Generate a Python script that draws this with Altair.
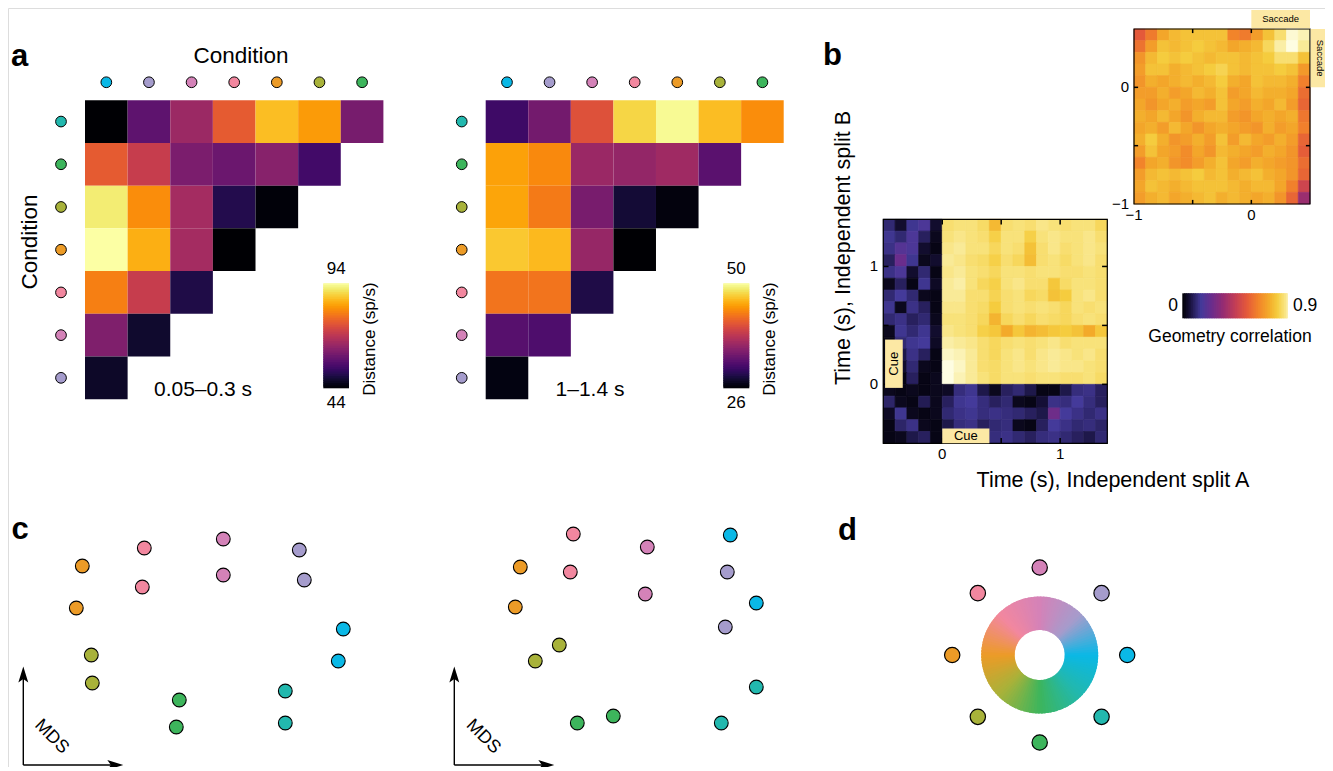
import altair as alt
import pandas as pd
import numpy as np

FONT = "Liberation Sans"
W, H = 1317, 759

# ---------------- conditions ----------------
cond_names = ["cyan", "lavender", "orchid", "pink", "orange", "olive", "green", "teal"]
cond_hex = ["#0ab8e6", "#a59ccc", "#d482b8", "#f2879f", "#ec9b27", "#a8b23a", "#3db55c", "#22b8ae"]
HEX = dict(zip(cond_names, cond_hex))

# ---------------- panel a data ----------------
col_conds = ["cyan", "lavender", "orchid", "pink", "orange", "olive", "green"]
row_conds = ["teal", "green", "olive", "orange", "pink", "orchid", "lavender"]

dist_early = [
    [44, 57.5, 65, 75.5, 86.5, 83, 60.5],
    [75.5, 70.5, 61, 59, 62.5, 54],
    [91.5, 81.5, 66, 50.5, 44.5],
    [94, 85, 66, 44],
    [80, 70.5, 50],
    [61.5, 48],
    [47.5],
]
dist_late = [
    [30.6, 33.7, 40.4, 47.6, 49.6, 46.4, 44],
    [45, 43.8, 36, 35.6, 36.3, 32.2],
    [45.2, 43, 34, 28.2, 26.5],
    [46.9, 46.2, 35.8, 26],
    [42.6, 42.6, 28.9],
    [32, 31.5],
    [26.7],
]
early_range = [44, 94]
late_range = [26, 50]

# ---------------- panel b data ----------------
big_ticks = [0, 0.5, 1]
big_labels_v = [0, 1]
big_labels_t = ["0", "1"]
inset_ticks = [-0.5, 0]
inset_labels_v = [-1, 0]
inset_labels_t = ["\u22121", "0"]
corr_range = [0, 0.9]

# geometry correlation, cue-aligned (rows: t_B = 1.35 ... -0.45, cols: t_A = -0.45 ... 1.35)
big_rows = [
    [0.12, 0.05, 0.15, 0.18, 0.05, 0.86, 0.87, 0.87, 0.85, 0.77, 0.86, 0.87, 0.86, 0.88, 0.87, 0.86, 0.87, 0.87, 0.84],
    [0.15, 0.12, 0.18, 0.10, 0.03, 0.87, 0.88, 0.87, 0.86, 0.82, 0.87, 0.87, 0.82, 0.87, 0.88, 0.87, 0.87, 0.88, 0.86],
    [0.14, 0.20, 0.18, 0.05, 0.02, 0.88, 0.89, 0.87, 0.87, 0.84, 0.87, 0.86, 0.79, 0.86, 0.88, 0.86, 0.87, 0.88, 0.87],
    [0.10, 0.25, 0.15, 0.03, 0.05, 0.89, 0.88, 0.86, 0.85, 0.82, 0.86, 0.84, 0.78, 0.86, 0.87, 0.85, 0.87, 0.88, 0.86],
    [0.14, 0.18, 0.05, 0.12, 0.02, 0.88, 0.89, 0.87, 0.86, 0.84, 0.87, 0.87, 0.86, 0.87, 0.87, 0.86, 0.86, 0.87, 0.86],
    [0.03, 0.10, 0.02, 0.15, 0.04, 0.89, 0.90, 0.87, 0.84, 0.82, 0.87, 0.88, 0.86, 0.86, 0.80, 0.85, 0.87, 0.87, 0.86],
    [0.12, 0.16, 0.12, 0.03, 0.02, 0.89, 0.89, 0.86, 0.86, 0.83, 0.86, 0.87, 0.84, 0.85, 0.79, 0.81, 0.87, 0.88, 0.86],
    [0.15, 0.03, 0.14, 0.10, 0.02, 0.88, 0.88, 0.86, 0.85, 0.81, 0.86, 0.87, 0.86, 0.87, 0.86, 0.84, 0.87, 0.86, 0.87],
    [0.12, 0.14, 0.10, 0.12, 0.03, 0.87, 0.87, 0.86, 0.84, 0.76, 0.84, 0.86, 0.84, 0.86, 0.85, 0.84, 0.86, 0.87, 0.86],
    [0.03, 0.15, 0.12, 0.15, 0.05, 0.88, 0.87, 0.86, 0.82, 0.80, 0.74, 0.80, 0.76, 0.78, 0.80, 0.81, 0.79, 0.74, 0.80],
    [0.02, 0.12, 0.15, 0.16, 0.04, 0.90, 0.89, 0.88, 0.86, 0.84, 0.86, 0.87, 0.86, 0.87, 0.88, 0.86, 0.87, 0.87, 0.87],
    [0.02, 0.08, 0.14, 0.10, 0.02, 0.92, 0.91, 0.89, 0.86, 0.84, 0.87, 0.88, 0.86, 0.88, 0.89, 0.88, 0.87, 0.88, 0.86],
    [0.02, 0.05, 0.12, 0.03, 0.02, 0.94, 0.92, 0.89, 0.86, 0.85, 0.87, 0.88, 0.87, 0.88, 0.89, 0.88, 0.88, 0.87, 0.86],
    [0.03, 0.02, 0.10, 0.02, 0.03, 0.94, 0.91, 0.89, 0.87, 0.85, 0.87, 0.87, 0.86, 0.87, 0.87, 0.86, 0.86, 0.87, 0.85],
    [0.03, 0.02, 0.03, 0.02, 0.03, 0.04, 0.13, 0.15, 0.08, 0.03, 0.10, 0.12, 0.08, 0.02, 0.02, 0.08, 0.13, 0.14, 0.10],
    [0.11, 0.03, 0.02, 0.09, 0.03, 0.10, 0.15, 0.16, 0.13, 0.10, 0.12, 0.03, 0.02, 0.06, 0.14, 0.13, 0.16, 0.13, 0.10],
    [0.04, 0.15, 0.03, 0.02, 0.03, 0.12, 0.14, 0.15, 0.13, 0.14, 0.13, 0.12, 0.10, 0.08, 0.26, 0.16, 0.14, 0.12, 0.14],
    [0.02, 0.11, 0.14, 0.03, 0.02, 0.08, 0.13, 0.14, 0.10, 0.12, 0.13, 0.03, 0.02, 0.10, 0.16, 0.14, 0.12, 0.13, 0.11],
    [0.02, 0.03, 0.08, 0.10, 0.02, 0.03, 0.04, 0.08, 0.10, 0.13, 0.14, 0.12, 0.10, 0.13, 0.14, 0.12, 0.10, 0.08, 0.12],
]
big_start, big_step = -0.5, 0.1

# saccade-aligned inset (rows: 0.45 ... -0.95, cols: -0.95 ... 0.45)
inset_rows = [
    [0.55, 0.63, 0.73, 0.77, 0.79, 0.79, 0.79, 0.79, 0.65, 0.63, 0.71, 0.79, 0.86, 0.93, 0.91],
    [0.61, 0.71, 0.79, 0.77, 0.79, 0.81, 0.79, 0.77, 0.73, 0.75, 0.77, 0.84, 0.90, 0.94, 0.89],
    [0.69, 0.77, 0.81, 0.79, 0.81, 0.79, 0.77, 0.79, 0.79, 0.77, 0.79, 0.81, 0.86, 0.86, 0.79],
    [0.71, 0.79, 0.79, 0.75, 0.77, 0.79, 0.81, 0.83, 0.79, 0.77, 0.79, 0.79, 0.81, 0.79, 0.70],
    [0.69, 0.75, 0.73, 0.75, 0.77, 0.75, 0.77, 0.81, 0.75, 0.73, 0.79, 0.77, 0.77, 0.75, 0.64],
    [0.71, 0.71, 0.75, 0.71, 0.73, 0.77, 0.75, 0.79, 0.71, 0.73, 0.77, 0.75, 0.75, 0.73, 0.60],
    [0.73, 0.69, 0.73, 0.75, 0.71, 0.73, 0.71, 0.79, 0.73, 0.71, 0.75, 0.73, 0.77, 0.71, 0.58],
    [0.75, 0.73, 0.77, 0.73, 0.69, 0.75, 0.77, 0.77, 0.71, 0.69, 0.73, 0.75, 0.73, 0.75, 0.62],
    [0.73, 0.75, 0.71, 0.77, 0.73, 0.69, 0.73, 0.75, 0.73, 0.71, 0.69, 0.75, 0.71, 0.73, 0.64],
    [0.75, 0.81, 0.75, 0.69, 0.71, 0.75, 0.71, 0.79, 0.71, 0.77, 0.73, 0.71, 0.75, 0.71, 0.58],
    [0.71, 0.79, 0.73, 0.71, 0.67, 0.73, 0.69, 0.77, 0.75, 0.73, 0.71, 0.75, 0.73, 0.69, 0.56],
    [0.65, 0.73, 0.75, 0.69, 0.67, 0.71, 0.75, 0.79, 0.73, 0.71, 0.75, 0.73, 0.71, 0.69, 0.60],
    [0.71, 0.77, 0.79, 0.77, 0.79, 0.81, 0.77, 0.79, 0.75, 0.77, 0.79, 0.75, 0.73, 0.69, 0.58],
    [0.73, 0.79, 0.77, 0.75, 0.77, 0.79, 0.79, 0.79, 0.77, 0.75, 0.77, 0.77, 0.73, 0.64, 0.48],
    [0.71, 0.75, 0.77, 0.73, 0.75, 0.77, 0.79, 0.75, 0.77, 0.75, 0.73, 0.75, 0.69, 0.58, 0.36],
]
inset_start, inset_step = -1.0, 0.1

corr_stops = [0, 0.06, 0.16, 0.25, 0.35, 0.45, 0.55, 0.65, 0.74, 0.81, 0.87, 0.90, 0.94]
corr_colors = ["#000004", "#150f36", "#443a9a", "#6a2d8c", "#962c72", "#c23d56",
               "#e4593a", "#f2842a", "#f3aa2a", "#f5cc3e", "#f8e27a", "#faeea6", "#fefde2"]

# ---------------- panel c data (MDS units) ----------------
mds_cond = ["orange", "orange", "pink", "pink", "orchid", "orchid", "lavender", "lavender",
            "cyan", "cyan", "teal", "teal", "green", "green", "olive", "olive"]
mds_early_x = [0.59, 0.53, 1.21, 1.19, 2.00, 2.00, 2.76, 2.81, 3.20, 3.15, 2.62, 2.62, 1.56, 1.53, 0.68, 0.69]
mds_early_y = [1.99, 1.57, 2.17, 1.78, 2.26, 1.90, 2.15, 1.85, 1.36, 1.04, 0.74, 0.42, 0.65, 0.38, 1.10, 0.82]
mds_late_x = [0.66, 0.61, 1.19, 1.16, 1.93, 1.91, 2.73, 2.71, 2.76, 3.02, 3.02, 2.67, 1.59, 1.23, 1.05, 0.81]
mds_late_y = [1.98, 1.58, 2.31, 1.93, 2.18, 1.71, 1.93, 1.38, 2.30, 1.62, 0.78, 0.42, 0.49, 0.42, 1.20, 1.04]

# ---------------- panel d data ----------------
cond_angles = [0, 45, 90, 135, 180, 225, 270, 315]   # counter-clockwise from right
wheel_conds = ["cyan", "lavender", "orchid", "pink", "orange", "olive", "green", "teal"]
ring_anchor_deg = [0, 45, 90, 135, 180, 225, 270, 315, 360]  # clockwise from top
ring_anchor_cond = ["orchid", "lavender", "cyan", "teal", "green", "olive", "orange", "pink", "orchid"]


# ======================================================================
def txt(text, x, y, size, angle=0, align="center", baseline="middle", weight="normal"):
    return alt.Chart(pd.DataFrame({"t": [text]})).mark_text(
        font=FONT, fontSize=size, angle=angle, align=align, baseline=baseline,
        fontWeight=weight, color="black").encode(
        x=alt.value(x), y=alt.value(y), text="t:N")


def heat_df(mat):
    rows = []
    for r, vals in enumerate(mat):
        for c, v in enumerate(vals):
            rows.append(dict(c0=c, c1=c + 1, r0=r, r1=r + 1, v=v))
    return pd.DataFrame(rows)


def bar_df(dom, n=60):
    edges = np.linspace(dom[0], dom[1], n + 1)
    step = edges[1] - edges[0]
    return pd.DataFrame({"lo": edges[:-1],
                         "hi": np.minimum(edges[1:] + step * 0.8, dom[1]),
                         "m": edges[:-1] + step / 2})


layers = []


def panel_a(mat, xr, yr, vdom, cbx, period, period_xy, lab_x):
    xs = alt.Scale(domain=[0, 7], range=xr)
    ys = alt.Scale(domain=[0, 7], range=yr)
    cs = alt.Scale(scheme="inferno", domain=vdom)
    layers.append(alt.Chart(heat_df(mat)).mark_rect().encode(
        x=alt.X("c0:Q", scale=xs, axis=None), x2="c1:Q",
        y=alt.Y("r0:Q", scale=ys, axis=None), y2="r1:Q",
        color=alt.Color("v:Q", scale=cs, legend=None)))
    cd = pd.DataFrame({"p": [i + 0.5 for i in range(7)], "q": [-0.42] * 7,
                       "h": [HEX[c] for c in col_conds]})
    layers.append(alt.Chart(cd).mark_circle(size=115, opacity=1, stroke="black", strokeWidth=1).encode(
        x=alt.X("p:Q", scale=xs, axis=None), y=alt.Y("q:Q", scale=ys, axis=None),
        color=alt.Color("h:N", scale=None)))
    rd = pd.DataFrame({"p": [-0.563] * 7, "q": [i + 0.5 for i in range(7)],
                       "h": [HEX[c] for c in row_conds]})
    layers.append(alt.Chart(rd).mark_circle(size=115, opacity=1, stroke="black", strokeWidth=1).encode(
        x=alt.X("p:Q", scale=xs, axis=None), y=alt.Y("q:Q", scale=ys, axis=None),
        color=alt.Color("h:N", scale=None)))
    # colour bar
    layers.append(alt.Chart(bar_df(vdom)).mark_rect().encode(
        x=alt.value(cbx[0]), x2=alt.value(cbx[1]),
        y=alt.Y("lo:Q", scale=alt.Scale(domain=vdom, range=[380.3, 275.3]), axis=None), y2="hi:Q",
        color=alt.Color("m:Q", scale=cs, legend=None)))
    mid = (cbx[0] + cbx[1]) / 2
    layers.append(txt(str(vdom[1]), mid, 261, 17))
    layers.append(txt(str(vdom[0]), mid, 395, 17))
    layers.append(txt("Distance (sp/s)", lab_x, 331, 17, angle=270))
    layers.append(txt(period, period_xy[0], period_xy[1], 21))


panel_a(dist_early, [77, 375.4], [92.2, 391.2], early_range, (315.3, 341), "0.05\u20130.3 s", (195, 382), 362)
panel_a(dist_late, [477.7, 775.7], [92.2, 391.2], late_range, (715.3, 741.3), "1\u20131.4 s", (582, 382), 762)
layers.append(txt("Condition", 233, 48, 22.5))
layers.append(txt("Condition", 22, 234, 22.5, angle=270))

# ---------------- panel b ----------------
corr_scale = alt.Scale(domain=corr_stops, range=corr_colors, interpolate="rgb", clamp=True)


def map_df(rows, start, step):
    n = len(rows)
    top = start + step * n
    recs = []
    for i, vals in enumerate(rows):
        for j, v in enumerate(vals):
            recs.append(dict(x0=start + step * j, x1=start + step * (j + 1),
                             y1=top - step * i, y0=top - step * (i + 1), v=v))
    return pd.DataFrame(recs)


def map_panel(rows, start, step, xr, yr, ticks, lab_v, lab_t, xlab_y, ylab_x):
    n = len(rows)
    lo, hi = start, start + step * n
    xs = alt.Scale(domain=[lo, hi], range=xr)
    ys = alt.Scale(domain=[lo, hi], range=yr)
    layers.append(alt.Chart(map_df(rows, start, step)).mark_rect(strokeWidth=0.7).encode(
        x=alt.X("x0:Q", scale=xs, axis=None), x2="x1:Q",
        y=alt.Y("y0:Q", scale=ys, axis=None), y2="y1:Q",
        color=alt.Color("v:Q", scale=corr_scale, legend=None),
        stroke=alt.Stroke("v:Q", scale=corr_scale, legend=None)))
    fr = pd.DataFrame({"a": [lo], "b": [hi], "c": [lo], "d": [hi]})
    layers.append(alt.Chart(fr).mark_rect(fillOpacity=0, stroke="black", strokeWidth=1.2).encode(
        x=alt.X("a:Q", scale=xs, axis=None), x2="b:Q",
        y=alt.Y("c:Q", scale=ys, axis=None), y2="d:Q"))
    L = 0.035 * (hi - lo) / 1.5
    recs = []
    for t in ticks:
        recs += [dict(x=t, x2=t, y=lo, y2=lo + L), dict(x=t, x2=t, y=hi, y2=hi - L),
                 dict(x=lo, x2=lo + L, y=t, y2=t), dict(x=hi, x2=hi - L, y=t, y2=t)]
    layers.append(alt.Chart(pd.DataFrame(recs)).mark_rule(color="black", strokeWidth=1.5).encode(
        x=alt.X("x:Q", scale=xs, axis=None), x2="x2:Q",
        y=alt.Y("y:Q", scale=ys, axis=None), y2="y2:Q"))
    ld = pd.DataFrame({"v": lab_v, "t": lab_t})
    layers.append(alt.Chart(ld).mark_text(font=FONT, fontSize=15, baseline="middle").encode(
        x=alt.X("v:Q", scale=xs, axis=None), y=alt.value(xlab_y), text="t:N"))
    layers.append(alt.Chart(ld).mark_text(font=FONT, fontSize=15, baseline="middle", align="right").encode(
        y=alt.Y("v:Q", scale=ys, axis=None), x=alt.value(ylab_x), text="t:N"))
    return xs, ys


bxs, bys = map_panel(big_rows, big_start, big_step, [875.3, 1099.3], [435.3, 211.3],
                     big_ticks, big_labels_v, big_labels_t, 445.5, 870)
ixs, iys = map_panel(inset_rows, inset_start, inset_step, [1126, 1302], [196, 21],
                     inset_ticks, inset_labels_v, inset_labels_t, 207, 1121)

BOX = "#fce8a4"


def label_box(xs, ys, x0, x1, y0, y1, text, angle, size):
    d = pd.DataFrame({"a": [x0], "b": [x1], "c": [y0], "d": [y1],
                      "mx": [(x0 + x1) / 2], "my": [(y0 + y1) / 2], "t": [text]})
    layers.append(alt.Chart(d).mark_rect(color=BOX).encode(
        x=alt.X("a:Q", scale=xs, axis=None), x2="b:Q",
        y=alt.Y("c:Q", scale=ys, axis=None), y2="d:Q"))
    layers.append(alt.Chart(d).mark_text(font=FONT, fontSize=size, angle=angle,
                                         baseline="middle", color="black").encode(
        x=alt.X("mx:Q", scale=xs, axis=None), y=alt.Y("my:Q", scale=ys, axis=None), text="t:N"))


label_box(bxs, bys, 0.0, 0.4, -0.5, -0.375, "Cue", 0, 13)
label_box(bxs, bys, -0.485, -0.335, -0.03, 0.38, "Cue", 270, 13)
label_box(ixs, iys, 0.0, 0.5, 0.506, 0.663, "Saccade", 0, 9.5)
label_box(ixs, iys, 0.506, 0.662, 0.0, 0.5, "Saccade", 90, 9.5)

layers.append(txt("Time (s), Independent split A", 1105, 473, 21.5))
layers.append(txt("Time (s), Independent split B", 836, 240, 21.5, angle=270))

layers.append(alt.Chart(bar_df(corr_range)).mark_rect().encode(
    x=alt.X("lo:Q", scale=alt.Scale(domain=corr_range, range=[1174.3, 1279.7]), axis=None), x2="hi:Q",
    y=alt.value(285.3), y2=alt.value(310.3),
    color=alt.Color("m:Q", scale=corr_scale, legend=None)))
layers.append(txt("0", 1170, 298, 17.5, align="right"))
layers.append(txt("0.9", 1285, 298, 17.5, align="left"))
layers.append(txt("Geometry correlation", 1222, 329, 17.5))


# ---------------- panel c ----------------
def mds_panel(xs_vals, ys_vals, xr, mds_xy):
    xs = alt.Scale(domain=[0, 3.5], range=xr)
    ys = alt.Scale(domain=[0, 2.5], range=[757, 507])
    d = pd.DataFrame({"x": xs_vals, "y": ys_vals, "h": [HEX[c] for c in mds_cond]})
    layers.append(alt.Chart(d).mark_circle(size=190, opacity=1, stroke="black", strokeWidth=1.1).encode(
        x=alt.X("x:Q", scale=xs, axis=None), y=alt.Y("y:Q", scale=ys, axis=None),
        color=alt.Color("h:N", scale=None)))
    ax = pd.DataFrame({"x": [0, 0], "x2": [0, 0.93], "y": [0, 0], "y2": [0.92, 0]})
    layers.append(alt.Chart(ax).mark_rule(color="black", strokeWidth=1.4).encode(
        x=alt.X("x:Q", scale=xs, axis=None), x2="x2:Q",
        y=alt.Y("y:Q", scale=ys, axis=None), y2="y2:Q"))
    hd = pd.DataFrame({"x": [0, 0.92], "y": [0.905, 0], "a": [0, 90]})
    layers.append(alt.Chart(hd).mark_point(
        shape="M0,-1L0.62,1L0,0.55L-0.62,1Z", filled=True, opacity=1, color="black", size=256).encode(
        x=alt.X("x:Q", scale=xs, axis=None), y=alt.Y("y:Q", scale=ys, axis=None),
        angle=alt.Angle("a:Q", scale=None)))
    layers.append(txt("MDS", mds_xy[0], mds_xy[1], 18, angle=45))


mds_panel(mds_early_x, mds_early_y, [15.3, 365.3], (43.7, 728.7))
mds_panel(mds_late_x, mds_late_y, [446.3, 796.3], (475.3, 728.7))

# ---------------- panel d ----------------
dxs = alt.Scale(domain=[-1, 1], range=[931.7, 1131.7])
dys = alt.Scale(domain=[-1, 1], range=[747, 547])
seg = 3
ring = pd.DataFrame({"t0": np.arange(0, 360, seg)})
ring["t1"] = ring["t0"] + seg * 1.6
ring["tm"] = ring["t0"] + seg / 2
layers.append(alt.Chart(ring).mark_arc(radius=58.5, radius2=25).encode(
    theta=alt.Theta("t0:Q", scale=alt.Scale(domain=[0, 360], range=[0, 2 * np.pi]), stack=False),
    theta2="t1:Q",
    x=alt.XDatum(0, type="quantitative", scale=dxs, axis=None),
    y=alt.YDatum(0, type="quantitative", scale=dys, axis=None),
    color=alt.Color("tm:Q", scale=alt.Scale(domain=ring_anchor_deg,
                                            range=[HEX[c] for c in ring_anchor_cond],
                                            interpolate="rgb"), legend=None)))
wd = pd.DataFrame({"ang": cond_angles, "h": [HEX[c] for c in wheel_conds]})
layers.append(alt.Chart(wd).transform_calculate(
    px="0.875*cos(datum.ang*PI/180)", py="0.875*sin(datum.ang*PI/180)").mark_circle(
    size=235, opacity=1, stroke="black", strokeWidth=1.2).encode(
    x=alt.X("px:Q", scale=dxs, axis=None), y=alt.Y("py:Q", scale=dys, axis=None),
    color=alt.Color("h:N", scale=None)))

# ---------------- panel letters ----------------
layers.append(txt("a", 3, 58, 31, align="left", baseline="alphabetic", weight="bold"))
layers.append(txt("b", 815, 57, 31, align="left", baseline="alphabetic", weight="bold"))
layers.append(txt("c", 3.5, 531, 31, align="left", baseline="alphabetic", weight="bold"))
layers.append(txt("d", 830, 532, 31, align="left", baseline="alphabetic", weight="bold"))

chart = alt.layer(*layers).resolve_scale(
    x="independent", y="independent", color="independent", stroke="independent", theta="independent"
).properties(width=W, height=H, padding=0, autosize=alt.AutoSizeParams(type="none")).configure_view(
    strokeWidth=0, stroke="transparent").configure(background="white")

chart.save("out.html", embed_options={"renderer": "svg", "actions": False})
